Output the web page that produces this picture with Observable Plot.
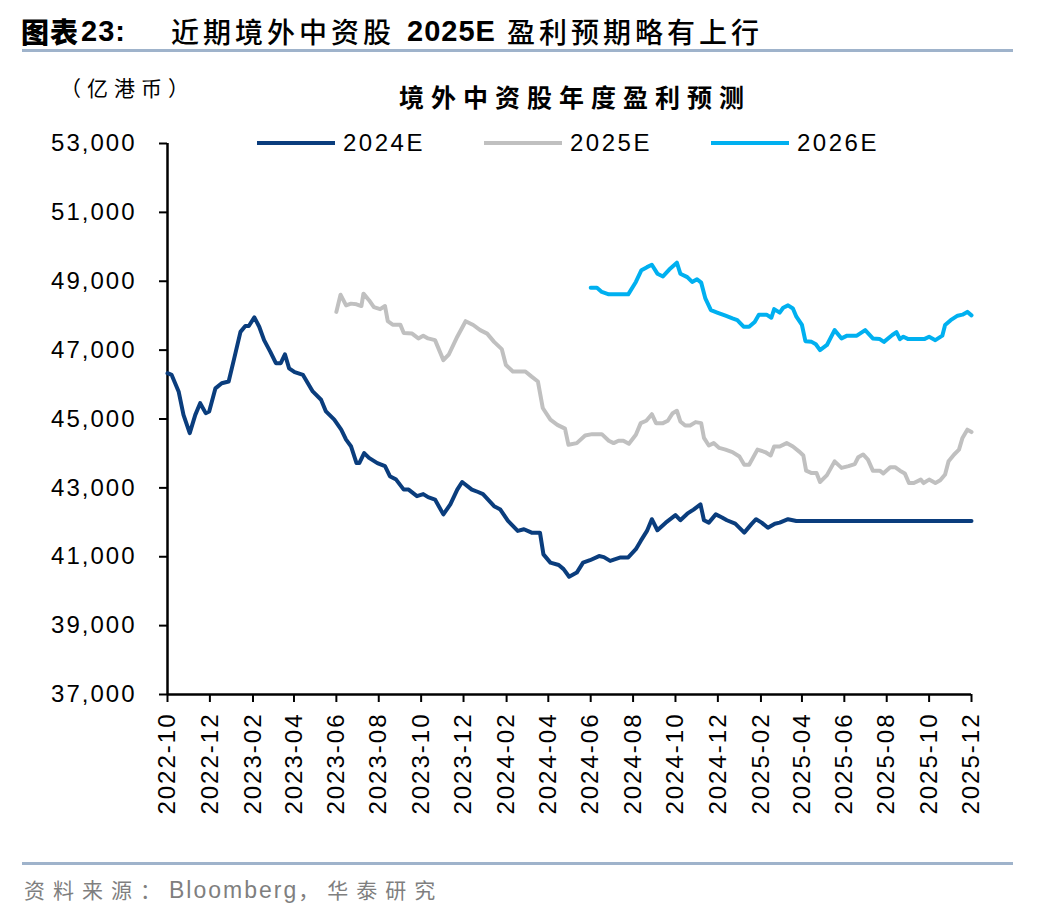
<!DOCTYPE html>
<html>
<head>
<meta charset="utf-8">
<script src="https://cdn.jsdelivr.net/npm/d3@7"></script>
<script src="https://cdn.jsdelivr.net/npm/@observablehq/plot@0.6"></script>
<style>
  body { margin: 0; background: #fff; }
  #wrap { position: relative; width: 1048px; height: 916px; overflow: hidden; background: #fff;
          font-family: "Liberation Sans", Arial, sans-serif; }
  #wrap svg { position: absolute; left: 0; top: 0; }
  #wrap svg text { letter-spacing: 2px; }
  .abs { position: absolute; white-space: nowrap; }
  .t { position: absolute; white-space: nowrap; top: 12px; line-height: 38px; color: #000; }
  .tcjkb { font-family: "Noto Sans CJK SC", sans-serif; font-weight: 900; font-size: 28px; letter-spacing: 1px; }
  .tlat { font-family: "Liberation Sans", Arial, sans-serif; font-weight: 700; font-size: 29px; letter-spacing: 1px; }
  .tcjk { font-family: "Noto Sans CJK SC", sans-serif; font-weight: 500; font-size: 28px; letter-spacing: 4px; }
  .rule { position: absolute; left: 22px; width: 991px; height: 3px; background: #9fb3cb; }
  #unit { left: 60px; top: 73px; font-family: "Noto Sans CJK SC", sans-serif; font-size: 21px; letter-spacing: 6px; line-height: 28px; }
  #ctitle { left: 399px; top: 80px; font-family: "Noto Sans CJK SC", sans-serif; font-weight: 700; font-size: 25px; letter-spacing: 7px; line-height: 32px; }
  #source { left: 24px; top: 874px; color: #7f7f7f; font-family: "Noto Sans CJK SC", sans-serif; font-size: 21px; letter-spacing: 8px; line-height: 30px; }
  #source .lat { font-family: "Liberation Sans", Arial, sans-serif; font-size: 23px; letter-spacing: 2px; }
  .legline { position: absolute; height: 4px; width: 78px; }
  .legtext { position: absolute; font-size: 24px; letter-spacing: 2.5px; line-height: 28px; color: #000; }
</style>
</head>
<body>
<div id="wrap">
  <div id="chart"></div>
  <div class="t tcjkb" style="left:21px">图表</div>
  <div class="t tlat" style="left:81px">23:</div>
  <div class="t tcjk" style="left:171px">近期境外中资股</div>
  <div class="t tlat" style="left:407px">2025E</div>
  <div class="t tcjk" style="left:507px">盈利预期略有上行</div>
  <div class="rule" style="top:49px"></div>
  <div id="unit" class="abs">（亿港币）</div>
  <div id="ctitle" class="abs">境外中资股年度盈利预测</div>
  <div class="rule" style="top:862px"></div>
  <div id="source" class="abs">资料来源：<span class="lat">Bloomberg</span>，华泰研究</div>
  <div id="legend"></div>
</div>
<script>
// ---- series meta ----
const seriesNames = ["2024E", "2025E", "2026E"];
const seriesColors = ["#0a3d7d", "#c0c0c0", "#00b0f0"];

// ---- axis ticks ----
const yTicks = [37000, 39000, 41000, 43000, 45000, 47000, 49000, 51000, 53000];
const xTickLabels = ["2022-10","2022-12","2023-02","2023-04","2023-06","2023-08","2023-10","2023-12",
  "2024-02","2024-04","2024-06","2024-08","2024-10","2024-12","2025-02","2025-04","2025-06","2025-08",
  "2025-10","2025-12"];

// ---- 2024E ----
const dates2024E = ["2022-10-01","2022-10-07","2022-10-17","2022-10-24","2022-11-02","2022-11-10","2022-11-17",
"2022-11-25","2022-11-30","2022-12-09","2022-12-18","2022-12-28","2023-01-05","2023-01-14","2023-01-21",
"2023-01-26","2023-02-03","2023-02-10","2023-02-17","2023-02-26","2023-03-06","2023-03-13","2023-03-19",
"2023-03-25","2023-04-02","2023-04-14","2023-04-21","2023-04-28","2023-05-10","2023-05-17","2023-05-29",
"2023-06-08","2023-06-15","2023-06-22","2023-06-30","2023-07-04","2023-07-11","2023-07-18","2023-07-30",
"2023-08-10","2023-08-17","2023-08-26","2023-09-06","2023-09-13","2023-09-25","2023-10-04","2023-10-11",
"2023-10-21","2023-11-02","2023-11-12","2023-11-22","2023-11-29","2023-12-13","2023-12-22","2023-12-29",
"2024-01-14","2024-01-23","2024-02-03","2024-02-17","2024-02-26","2024-03-08","2024-03-20","2024-03-25",
"2024-04-04","2024-04-16","2024-04-23","2024-05-01","2024-05-12","2024-05-21","2024-05-31","2024-06-13",
"2024-06-20","2024-06-29","2024-07-14","2024-07-25","2024-08-05","2024-08-12","2024-08-21","2024-08-28",
"2024-09-05","2024-09-17","2024-10-01","2024-10-08","2024-10-18","2024-10-27","2024-11-06","2024-11-11",
"2024-11-18","2024-11-28","2024-12-07","2024-12-14","2024-12-26","2025-01-08","2025-01-18","2025-01-25",
"2025-02-02","2025-02-11","2025-02-21","2025-02-28","2025-03-12","2025-03-24","2025-12-01"];
const values2024E = [46330,46280,45800,45120,44590,45120,45460,
45170,45220,45890,46040,46090,46760,47530,47700,
47700,47950,47680,47290,46950,46620,46620,46880,
46470,46360,46280,46040,45800,45560,45220,44980,
44690,44400,44210,43720,43720,44010,43870,43720,
43630,43340,43240,42950,42950,42760,42820,42730,
42660,42230,42520,42950,43170,42950,42880,42820,
42470,42370,42040,41750,41800,41700,41700,41070,
40830,40760,40640,40420,40540,40830,40900,41020,
40990,40880,40980,40980,41220,41460,41750,42090,
41770,41990,42210,42060,42250,42370,42520,42060,
41990,42230,42140,42060,41960,41700,41940,42090,
41990,41840,41960,41990,42090,42040,42040];

// ---- 2025E ----
const dates2025E = ["2023-06-01","2023-06-07","2023-06-15","2023-06-22","2023-06-30","2023-07-07","2023-07-10",
"2023-07-18","2023-07-25","2023-08-03","2023-08-10","2023-08-14","2023-08-21","2023-09-01","2023-09-06",
"2023-09-18","2023-09-27","2023-10-04","2023-10-11","2023-10-21","2023-11-02","2023-11-10","2023-11-22",
"2023-12-04","2023-12-15","2023-12-25","2024-01-04","2024-01-14","2024-01-25","2024-01-31","2024-02-10",
"2024-02-28","2024-03-08","2024-03-17","2024-03-24","2024-04-04","2024-04-14","2024-04-25","2024-04-30",
"2024-05-12","2024-05-24","2024-06-03","2024-06-17","2024-06-27","2024-07-04","2024-07-11","2024-07-18",
"2024-07-26","2024-08-05","2024-08-12","2024-08-20","2024-08-28","2024-09-03","2024-09-13","2024-09-20",
"2024-09-27","2024-10-03","2024-10-08","2024-10-15","2024-10-22","2024-10-30","2024-11-07","2024-11-11",
"2024-11-18","2024-11-25","2024-12-03","2024-12-12","2024-12-22","2025-01-01","2025-01-08","2025-01-15",
"2025-01-27","2025-02-07","2025-02-15","2025-02-20","2025-02-28","2025-03-10","2025-03-19","2025-03-29",
"2025-04-03","2025-04-07","2025-04-15","2025-04-22","2025-04-27","2025-05-07","2025-05-18","2025-05-28",
"2025-06-07","2025-06-16","2025-06-21","2025-06-28","2025-07-05","2025-07-12","2025-07-22","2025-07-27",
"2025-08-06","2025-08-13","2025-08-20","2025-08-27","2025-09-02","2025-09-09","2025-09-19","2025-09-23",
"2025-10-01","2025-10-10","2025-10-17","2025-10-24","2025-10-29","2025-11-06","2025-11-13","2025-11-18",
"2025-11-25","2025-12-01"];
const values2025E = [48110,48610,48300,48350,48330,48280,48640,
48450,48250,48190,48280,47840,47740,47740,47500,
47480,47340,47420,47340,47290,46710,46880,47390,
47840,47730,47580,47480,47240,47030,46570,46380,
46380,46230,46090,45320,44980,44830,44720,44250,
44300,44520,44560,44560,44370,44300,44370,44370,
44280,44540,44880,44950,45140,44880,44880,44950,
45170,45240,44930,44810,44810,44910,44880,44450,
44230,44300,44160,44110,44040,43910,43670,43670,
44110,44040,43940,44200,44200,44300,44200,44040,
43940,43500,43430,43430,43170,43370,43770,43580,
43630,43690,43890,43970,43820,43500,43500,43420,
43600,43600,43500,43420,43140,43140,43240,43140,
43240,43140,43220,43390,43770,43970,44110,44450,
44690,44620];

// ---- 2026E ----
const dates2026E = ["2024-06-01","2024-06-10","2024-06-17","2024-06-27","2024-07-25","2024-08-05","2024-08-13",
"2024-08-21","2024-08-28","2024-09-05","2024-09-13","2024-09-22","2024-10-03","2024-10-08","2024-10-18",
"2024-10-25","2024-11-01","2024-11-07","2024-11-13","2024-11-21","2024-11-30","2024-12-12","2024-12-22",
"2024-12-29","2025-01-07","2025-01-15","2025-01-23","2025-01-29","2025-02-09","2025-02-16","2025-02-20",
"2025-02-28","2025-03-05","2025-03-12","2025-03-19","2025-03-24","2025-04-01","2025-04-06","2025-04-15",
"2025-04-21","2025-04-27","2025-05-07","2025-05-18","2025-05-28","2025-06-05","2025-06-19","2025-07-01",
"2025-07-12","2025-07-22","2025-07-28","2025-08-09","2025-08-15","2025-08-20","2025-08-25","2025-09-01",
"2025-09-24","2025-10-01","2025-10-10","2025-10-20","2025-10-24","2025-11-01","2025-11-11","2025-11-18",
"2025-11-25","2025-12-01"];
const values2026E = [48810,48810,48690,48620,48620,48980,49320,
49410,49480,49220,49140,49340,49540,49220,49120,
48980,49060,48960,48500,48160,48090,48000,47920,
47870,47680,47680,47820,48030,48030,47940,48190,
48090,48230,48300,48210,47970,47730,47260,47240,
47170,47000,47150,47580,47340,47420,47420,47580,
47340,47320,47240,47440,47520,47320,47390,47320,
47320,47390,47290,47420,47730,47870,48000,48030,
48110,48010];

// ---- build table for Plot ----
const parse = d3.utcParse("%Y-%m-%d");
const seriesDates = [dates2024E, dates2025E, dates2026E];
const seriesValues = [values2024E, values2025E, values2026E];
const rows = [];
seriesNames.forEach((name, i) => {
  seriesDates[i].forEach((d, j) => rows.push({series: name, date: parse(d), value: seriesValues[i][j]}));
});
const xTicks = xTickLabels.map(s => parse(s + "-01"));
const xDomain = [xTicks[0], xTicks[xTicks.length - 1]];

const plot = Plot.plot({
  width: 1048,
  height: 916,
  marginLeft: 167,
  marginRight: 77,
  marginTop: 143,
  marginBottom: 222,
  style: {fontFamily: '"Liberation Sans", Arial, sans-serif', fontSize: "24px", color: "#000", background: "transparent", overflow: "visible"},
  x: {type: "utc", domain: xDomain},
  y: {domain: [37000, 53000]},
  color: {domain: seriesNames, range: seriesColors},
  marks: [
    Plot.axisY({ticks: yTicks, tickFormat: d3.format(","), tickSize: 8, tickPadding: 23, strokeWidth: 2, stroke: "#000", fill: "#000", fontSize: 24, label: null}),
    Plot.axisX({ticks: xTicks, tickFormat: d3.utcFormat("%Y-%m"), tickSize: 8, tickPadding: 10, tickRotate: -90, strokeWidth: 2, stroke: "#000", fill: "#000", fontSize: 24, label: null}),
    Plot.ruleX([xDomain[0]], {stroke: "#000", strokeWidth: 2.5}),
    Plot.ruleY([37000], {stroke: "#000", strokeWidth: 2.5}),
    Plot.line(rows, {x: "date", y: "value", z: "series", stroke: "series", strokeWidth: 4, strokeLinejoin: "round", strokeLinecap: "round"})
  ]
});
document.getElementById("chart").appendChild(plot);

// ---- legend (HTML, colours from the series arrays) ----
const legend = document.getElementById("legend");
const legLeft = [257, 484, 711];
seriesNames.forEach((name, i) => {
  const ln = document.createElement("div");
  ln.className = "legline";
  ln.style.left = legLeft[i] + "px";
  ln.style.top = "141px";
  ln.style.background = seriesColors[i];
  legend.appendChild(ln);
  const tx = document.createElement("div");
  tx.className = "legtext";
  tx.style.left = (legLeft[i] + 86) + "px";
  tx.style.top = "129px";
  tx.textContent = name;
  legend.appendChild(tx);
});
</script>
</body>
</html>
